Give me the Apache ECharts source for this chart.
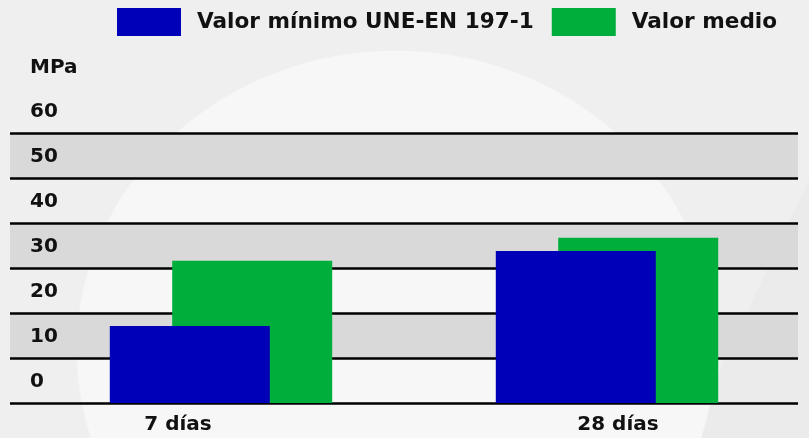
<!DOCTYPE html>
<html>
<head>
<meta charset="utf-8">
<script src="https://cdn.jsdelivr.net/npm/echarts@6/dist/echarts.min.js"></script>
<style>
  html, body { margin: 0; padding: 0; }
  #chart {
    width: 809px;
    height: 438px;
    background:
      radial-gradient(ellipse 320px 300px at 396px 350px, #f7f7f7 99.5%, rgba(247,247,247,0) 100%),
      linear-gradient(115deg, rgba(0,0,0,0) 88%, #ebebeb 88.2%),
      #efefef;
  }
</style>
</head>
<body>
<div id="chart"></div>
<script>
// datos del gráfico
const categorias = ['7 días', '28 días'];
const valorMinimo = [17.1, 33.8];
const valorMedio = [31.6, 36.7];
const nombresSeries = ['Valor mínimo UNE-EN 197-1', 'Valor medio'];
const ejeMin = 0;
const ejeMax = 60;
const ejeIntervalo = 10;

const fuente = 'DejaVu Sans';
const azul = '#0000b8';
const verde = '#00ae3c';

const myChart = echarts.init(document.getElementById('chart'));

const option = {
  backgroundColor: 'transparent',
  animation: false,
  textStyle: { fontFamily: fuente },
  legend: {
    data: nombresSeries,
    left: 112,
    top: 3,
    itemWidth: 64,
    itemHeight: 28,
    itemGap: 18,
    icon: 'rect',
    textStyle: { fontSize: 21.6, fontWeight: 'bold', color: '#111', fontFamily: fuente, padding: [0, 0, 0, 11] }
  },
  grid: [
    // bandas y líneas
    { left: 10, right: 11, top: 133, bottom: 35 },
    // barras
    { left: 28, right: 9, top: 133, bottom: 35 }
  ],
  xAxis: [
    { type: 'category', gridIndex: 0, data: categorias, show: false },
    {
      type: 'category',
      gridIndex: 1,
      data: categorias,
      axisLine: { show: false },
      axisTick: { show: false },
      axisLabel: {
        margin: 12,
        formatter: (v, i) => '{c' + i + '|' + v + '}',
        rich: {
          c0: { fontSize: 20, fontWeight: 'bold', color: '#111', fontFamily: fuente, padding: [0, 86, 0, 0] },
          c1: { fontSize: 20, fontWeight: 'bold', color: '#111', fontFamily: fuente, padding: [0, 0, 0, 22] }
        }
      }
    }
  ],
  yAxis: [
    {
      type: 'value',
      gridIndex: 0,
      min: ejeMin,
      max: ejeMax,
      interval: ejeIntervalo,
      name: 'MPa',
      nameLocation: 'end',
      nameGap: 65,
      nameTextStyle: {
        fontSize: 20, fontWeight: 'bold', color: '#111', fontFamily: fuente,
        align: 'left', verticalAlign: 'middle', padding: [0, 0, 0, 20]
      },
      axisLine: { show: false },
      axisTick: { show: false },
      axisLabel: {
        inside: true,
        margin: 20,
        fontSize: 20,
        fontWeight: 'bold',
        color: '#111',
        fontFamily: fuente,
        verticalAlign: 'bottom',
        lineHeight: 42
      },
      splitLine: { show: true, lineStyle: { color: '#000', width: 2.5 } },
      splitArea: { show: true, areaStyle: { color: ['rgba(0,0,0,0)', '#d9d9d9'] } }
    },
    {
      type: 'value',
      gridIndex: 1,
      min: ejeMin,
      max: ejeMax,
      interval: ejeIntervalo,
      show: false,
      splitLine: { show: false }
    }
  ],
  series: [
    {
      name: nombresSeries[0],
      type: 'bar',
      xAxisIndex: 1,
      yAxisIndex: 1,
      data: valorMinimo,
      barWidth: 160,
      barGap: '-61%',
      z: 3,
      itemStyle: { color: azul }
    },
    {
      name: nombresSeries[1],
      type: 'bar',
      xAxisIndex: 1,
      yAxisIndex: 1,
      data: valorMedio,
      barWidth: 160,
      z: 2,
      itemStyle: { color: verde }
    }
  ]
};

myChart.setOption(option);
</script>
</body>
</html>
